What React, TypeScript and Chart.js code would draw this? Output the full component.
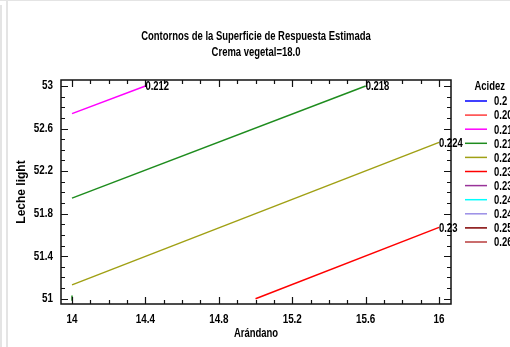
import React, { useEffect, useRef } from "react";
import { Chart, registerables } from "chart.js";

Chart.register(...registerables);

// ---------- data ----------
const titleLines = ["Contornos de la Superficie de Respuesta Estimada", "Crema vegetal=18.0"];
const xAxisTitle = "Arándano";
const yAxisTitle = "Leche light";
const xTickValues = [14, 14.4, 14.8, 15.2, 15.6, 16];
const xTickLabels = ["14", "14.4", "14.8", "15.2", "15.6", "16"];
const yTickValues = [51, 51.4, 51.8, 52.2, 52.6, 53];
const yTickLabels = ["51", "51.4", "51.8", "52.2", "52.6", "53"];

const legendTitle = "Acidez";
const legendLevels = ["0.2", "0.206", "0.212", "0.218", "0.224", "0.23", "0.236", "0.242", "0.248", "0.254", "0.26"];
const legendColors = ["#0000ff", "#ff3c3c", "#ff00ff", "#1e8c1e", "#a0a014", "#ff0000", "#993399", "#00ffff", "#9a8ee6", "#800000", "#b83c3c"];

// contour lines (Arándano, Leche light)
const contour212X = [14.0, 14.4];
const contour212Y = [52.74, 53.0];
const contour218X = [14.0, 15.6];
const contour218Y = [51.945, 53.0];
const contour218bX = [14.0, 14.0];
const contour218bY = [50.98, 51.03];
const contour224X = [14.0, 16.0];
const contour224Y = [51.13, 52.47];
const contour230X = [15.0, 16.0];
const contour230Y = [51.0, 51.67];

// "NarrowFace" is a marker (not installed) -> falls back to Liberation Sans, drawn condensed
const NARROW = 'NarrowFace, "Liberation Sans", Arial, sans-serif';
const WIDE = '"Liberation Sans", Arial, sans-serif';
const SX = 0.79;

const pts = (xs: number[], ys: number[]) => xs.map((x, i) => ({ x, y: ys[i] }));

const decorPlugin = {
  id: "decor",
  beforeDraw(chart: any) {
    const ctx = chart.ctx;
    ctx.save();
    ctx.fillStyle = "#e4e4e4";
    ctx.fillRect(0, 0, chart.width, 1);
    ctx.fillRect(0, 5, 2, chart.height - 5);
    ctx.fillRect(6, 0, 2, chart.height);
    ctx.restore();
  },
};

const framePlugin = {
  id: "frame",
  afterDraw(chart: any) {
    const ctx = chart.ctx;
    const { left, right, top, bottom } = chart.chartArea;
    const xs = chart.scales.x;
    const ys = chart.scales.y;
    ctx.save();
    ctx.strokeStyle = "#111";
    ctx.lineWidth = 1.5;
    ctx.strokeRect(left, top, right - left, bottom - top);
    ctx.lineWidth = 1.2;
    ctx.beginPath();
    for (let k = Math.ceil(xs.min * 10 - 1e-6); k <= Math.floor(xs.max * 10 + 1e-6); k++) {
      const v = k / 10;
      const px = Math.round(xs.getPixelForValue(v)) + 0.5;
      const major = xTickValues.some((t) => Math.abs(t - v) < 1e-6);
      const len = major ? 7 : 4;
      ctx.moveTo(px, bottom);
      ctx.lineTo(px, bottom - len);
      ctx.moveTo(px, top);
      ctx.lineTo(px, top + len);
    }
    for (let k = Math.ceil(ys.min * 10 - 1e-6); k <= Math.floor(ys.max * 10 + 1e-6); k++) {
      const v = k / 10;
      const py = Math.round(ys.getPixelForValue(v)) + 0.5;
      const major = yTickValues.some((t) => Math.abs(t - v) < 1e-6);
      const len = major ? 7 : 4;
      ctx.moveTo(left, py);
      ctx.lineTo(left + len, py);
      ctx.moveTo(right, py);
      ctx.lineTo(right - len, py);
    }
    ctx.stroke();

    // contour labels at line ends
    ctx.fillStyle = "#000";
    ctx.font = `bold 12px ${NARROW}`;
    ctx.textAlign = "left";
    ctx.textBaseline = "middle";
    chart.data.datasets.forEach((ds: any, i: number) => {
      if (!ds.endLabel) return;
      const meta = chart.getDatasetMeta(i);
      const last = meta.data[meta.data.length - 1];
      ctx.fillText(ds.endLabel, last.x, last.y + 1);
    });

    // legend
    ctx.font = `bold 12px ${NARROW}`;
    ctx.textAlign = "right";
    ctx.fillText(legendTitle, 505, 87);
    ctx.textAlign = "left";
    legendLevels.forEach((lab, i) => {
      const y = 101 + i * 14.1;
      ctx.strokeStyle = legendColors[i];
      ctx.lineWidth = 1.5;
      ctx.beginPath();
      ctx.moveTo(465, y);
      ctx.lineTo(487, y);
      ctx.stroke();
      ctx.fillStyle = "#000";
      ctx.fillText(lab, 494, y + 1);
    });
    ctx.restore();
  },
};

export default function App() {
  const ref = useRef<HTMLCanvasElement | null>(null);
  useEffect(() => {
    const canvas = ref.current;
    if (!canvas) return;
    const c2d: any = canvas.getContext("2d");
    const origFill = c2d.fillText;
    c2d.fillText = function (text: string, x: number, y: number, maxWidth?: number) {
      if (String(this.font).includes("NarrowFace")) {
        this.save();
        this.translate(x, y);
        this.scale(SX, 1);
        if (maxWidth !== undefined) origFill.call(this, text, 0, 0, maxWidth / SX);
        else origFill.call(this, text, 0, 0);
        this.restore();
      } else if (maxWidth !== undefined) {
        origFill.call(this, text, x, y, maxWidth);
      } else {
        origFill.call(this, text, x, y);
      }
    };
    const tickFont = { family: NARROW, size: 12, weight: "bold" as const };
    const chart = new Chart(canvas, {
      type: "line",
      data: {
        datasets: [
          { label: "0.212", endLabel: "0.212", data: pts(contour212X, contour212Y), borderColor: legendColors[2] },
          { label: "0.218", endLabel: "0.218", data: pts(contour218X, contour218Y), borderColor: legendColors[3] },
          { label: "0.218b", data: pts(contour218bX, contour218bY), borderColor: legendColors[3] },
          { label: "0.224", endLabel: "0.224", data: pts(contour224X, contour224Y), borderColor: legendColors[4] },
          { label: "0.23", endLabel: "0.23", data: pts(contour230X, contour230Y), borderColor: legendColors[5] },
        ].map((d: any) => ({ ...d, borderWidth: 1.5, pointRadius: 0, fill: false, tension: 0 })),
      },
      options: {
        animation: false,
        responsive: false,
        layout: { padding: { left: 0, right: 59, top: 0, bottom: 0 } },
        plugins: {
          legend: { display: false },
          tooltip: { enabled: false },
          title: {
            display: true,
            text: titleLines,
            fullSize: false,
            color: "#000",
            font: { family: NARROW, size: 12, weight: "bold", lineHeight: 16 / 12 },
            padding: { top: 29, bottom: 19 },
          },
        },
        scales: {
          x: {
            type: "linear",
            min: 13.94,
            max: 16.065,
            grid: { display: false, drawTicks: false },
            border: { display: false },
            ticks: {
              font: { ...tickFont, size: 12.5 },
              color: "#000",
              padding: 8,
              maxRotation: 0,
              autoSkip: false,
              callback: (_v: any, i: number) => xTickLabels[i],
            },
            afterBuildTicks: (s: any) => {
              s.ticks = xTickValues.map((v) => ({ value: v }));
            },
            afterFit: (s: any) => {
              s.height = 43;
            },
            title: { display: true, text: xAxisTitle, color: "#000", font: tickFont, padding: { top: 0, bottom: 6 } },
          },
          y: {
            type: "linear",
            min: 50.95,
            max: 53.056,
            grid: { display: false, drawTicks: false },
            border: { display: false },
            ticks: {
              font: { ...tickFont, size: 12.5 },
              color: "#000",
              padding: 8,
              autoSkip: false,
              callback: (_v: any, i: number) => yTickLabels[i],
            },
            afterBuildTicks: (s: any) => {
              s.ticks = yTickValues.map((v) => ({ value: v }));
            },
            afterFit: (s: any) => {
              s.width = 61;
            },
            title: {
              display: true,
              text: yAxisTitle,
              color: "#000",
              font: { family: WIDE, size: 12, weight: "bold" },
              padding: { top: 14, bottom: 0 },
            },
          },
        },
      } as any,
      plugins: [decorPlugin, framePlugin],
    });
    return () => {
      chart.destroy();
      c2d.fillText = origFill;
    };
  }, []);
  return (
    <div style={{ position: "fixed", left: 0, top: 0, width: 510, height: 347, background: "#fff" }}>
      <canvas ref={ref} width={510} height={347} style={{ display: "block" }} />
    </div>
  );
}
